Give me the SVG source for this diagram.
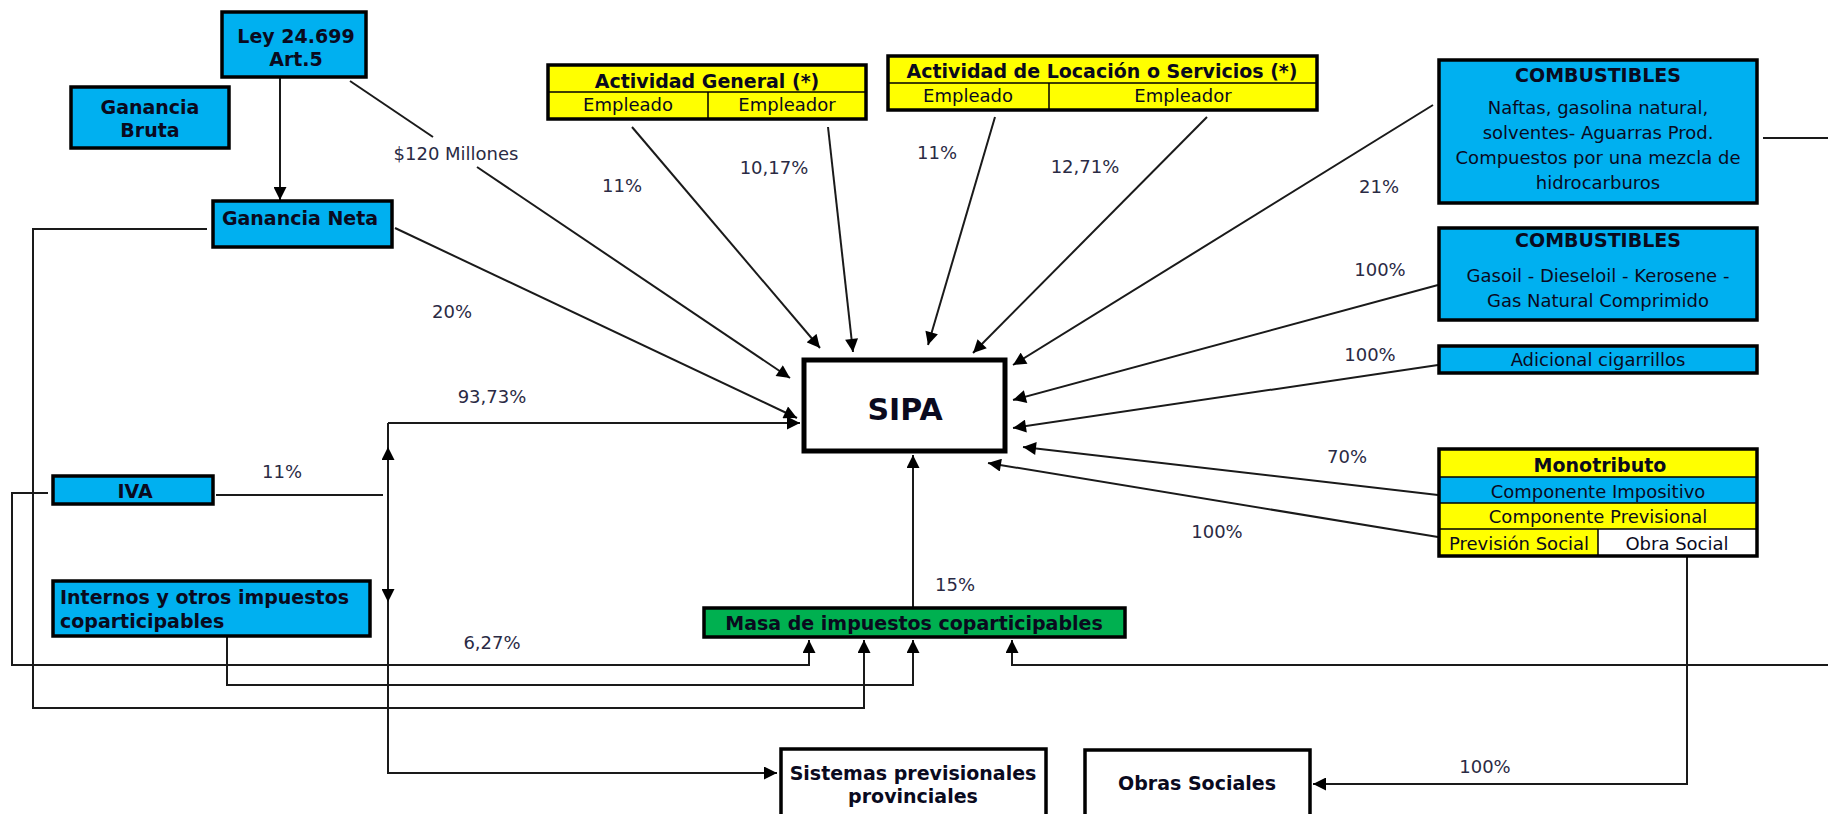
<svg xmlns="http://www.w3.org/2000/svg" width="1828" height="814" viewBox="0 0 1828 814">
<defs>
<style>
.t{font-family:"DejaVu Sans",Verdana,sans-serif;font-size:18px;fill:#0a0a1e;text-anchor:middle}
.b{font-weight:bold;font-size:19px}
.l{font-family:"DejaVu Sans",Verdana,sans-serif;font-size:18px;fill:#2a2a44;text-anchor:middle}
.blue{fill:#00B0F0;stroke:#000;stroke-width:3.5}
.frame{fill:none;stroke:#000;stroke-width:3.5}
.sep{stroke:#000;stroke-width:1.5;fill:none}
.white{fill:#fff;stroke:#000;stroke-width:3.5}
.c{stroke:#1a1a1a;stroke-width:2;fill:none}
.a{marker-end:url(#arr)}
</style>
<marker id="arr" viewBox="0 0 10 10" refX="10" refY="5" markerWidth="14" markerHeight="13" markerUnits="userSpaceOnUse" orient="auto">
<path d="M0,0 L10,5 L0,10 z" fill="#000"/>
</marker>
</defs>
<rect width="1828" height="814" fill="#fff"/>

<g id="connectors">
<path class="c a" d="M280,77 V200"/>
<path class="c" d="M350,81 L433,137"/>
<path class="c a" d="M477,167 L790,378"/>
<path class="c a" d="M632,127 L820,348"/>
<path class="c a" d="M828,127 L853,352"/>
<path class="c a" d="M995,117 L928,345"/>
<path class="c a" d="M1207,117 L973,353"/>
<path class="c a" d="M1433,105 L1013,365"/>
<path class="c a" d="M1438,285 L1013,400"/>
<path class="c a" d="M1438,365 L1013,428"/>
<path class="c a" d="M1438,495 L1023,447"/>
<path class="c a" d="M1438,537 L988,463"/>
<path class="c a" d="M395,228 L797,418"/>
<path class="c a" d="M388,423 H800"/>
<path class="c a" d="M388,423 V773 H777"/>
<path class="c a" d="M388,495 V447"/>
<path class="c a" d="M388,495 V602"/>
<path class="c" d="M216,495 H383"/>
<path class="c a" d="M48,493 H12 V665 H809 V640"/>
<path class="c a" d="M207,229 H33 V708 H864 V640"/>
<path class="c a" d="M227,636 V685 H913 V640"/>
<path class="c a" d="M1828,665 H1012 V640"/>
<path class="c" d="M1763,138 H1828"/>
<path class="c a" d="M913,607 V455"/>
<path class="c a" d="M1687,556 V784 H1313"/>
</g>

<g id="labels">
<text class="l" x="456" y="160">$120 Millones</text>
<text class="l" x="622" y="192">11%</text>
<text class="l" x="774" y="174">10,17%</text>
<text class="l" x="937" y="159">11%</text>
<text class="l" x="1085" y="173">12,71%</text>
<text class="l" x="1379" y="193">21%</text>
<text class="l" x="452" y="318">20%</text>
<text class="l" x="492" y="403">93,73%</text>
<text class="l" x="282" y="478">11%</text>
<text class="l" x="492" y="649">6,27%</text>
<text class="l" x="955" y="591">15%</text>
<text class="l" x="1380" y="276">100%</text>
<text class="l" x="1370" y="361">100%</text>
<text class="l" x="1347" y="463">70%</text>
<text class="l" x="1217" y="538">100%</text>
<text class="l" x="1485" y="773">100%</text>
</g>

<g id="ley">
<rect class="blue" x="222" y="12" width="144" height="65"/>
<text class="t b" x="296" y="43">Ley 24.699</text>
<text class="t b" x="296" y="66">Art.5</text>
</g>

<g id="ganancia-bruta">
<rect class="blue" x="71" y="87" width="158" height="61"/>
<text class="t b" x="150" y="114">Ganancia</text>
<text class="t b" x="150" y="137">Bruta</text>
</g>

<g id="ganancia-neta">
<rect class="blue" x="213" y="201" width="179" height="46"/>
<text class="t b" x="300" y="225">Ganancia Neta</text>
</g>

<g id="actividad-general">
<rect x="548" y="65" width="318" height="54" fill="#FFFF00"/>
<path class="sep" d="M548,92 H866 M708,92 V119"/>
<rect class="frame" x="548" y="65" width="318" height="54"/>
<text class="t b" x="707" y="88">Actividad General (*)</text>
<text class="t" x="628" y="111">Empleado</text>
<text class="t" x="787" y="111">Empleador</text>
</g>

<g id="actividad-locacion">
<rect x="888" y="56" width="429" height="54" fill="#FFFF00"/>
<path class="sep" d="M888,83 H1317 M1049,83 V110"/>
<rect class="frame" x="888" y="56" width="429" height="54"/>
<text class="t b" x="1102" y="78">Actividad de Locación o Servicios (*)</text>
<text class="t" x="968" y="102">Empleado</text>
<text class="t" x="1183" y="102">Empleador</text>
</g>

<g id="combustibles-1">
<rect class="blue" x="1439" y="60" width="318" height="143"/>
<text class="t b" x="1598" y="82">COMBUSTIBLES</text>
<text class="t" x="1598" y="114">Naftas, gasolina natural,</text>
<text class="t" x="1598" y="139">solventes- Aguarras Prod.</text>
<text class="t" x="1598" y="164">Compuestos por una mezcla de</text>
<text class="t" x="1598" y="189">hidrocarburos</text>
</g>

<g id="combustibles-2">
<rect class="blue" x="1439" y="228" width="318" height="92"/>
<text class="t b" x="1598" y="247">COMBUSTIBLES</text>
<text class="t" x="1598" y="282">Gasoil - Dieseloil - Kerosene -</text>
<text class="t" x="1598" y="307">Gas Natural Comprimido</text>
</g>

<g id="cigarrillos">
<rect class="blue" x="1439" y="346" width="318" height="27"/>
<text class="t" x="1598" y="366">Adicional cigarrillos</text>
</g>

<g id="monotributo">
<rect x="1439" y="449" width="318" height="28" fill="#FFFF00"/>
<rect x="1439" y="477" width="318" height="26" fill="#00B0F0"/>
<rect x="1439" y="503" width="318" height="26" fill="#FFFF00"/>
<rect x="1439" y="529" width="159" height="27" fill="#FFFF00"/>
<rect x="1598" y="529" width="159" height="27" fill="#fff"/>
<path class="sep" d="M1439,477 H1757 M1439,503 H1757 M1439,529 H1757 M1598,529 V556"/>
<rect class="frame" x="1439" y="449" width="318" height="107"/>
<text class="t b" x="1600" y="472">Monotributo</text>
<text class="t" x="1598" y="498">Componente Impositivo</text>
<text class="t" x="1598" y="523">Componente Previsional</text>
<text class="t" x="1519" y="550">Previsión Social</text>
<text class="t" x="1677" y="550">Obra Social</text>
</g>

<g id="sipa">
<rect x="804" y="360" width="201" height="91" fill="#fff" stroke="#000" stroke-width="5"/>
<text class="t b" x="905" y="420" style="font-size:30px">SIPA</text>
</g>

<g id="iva">
<rect class="blue" x="53" y="476" width="160" height="28"/>
<text class="t b" x="135" y="498">IVA</text>
</g>

<g id="internos">
<rect class="blue" x="53" y="581" width="317" height="55"/>
<text class="t b" x="60" y="604" style="text-anchor:start">Internos y otros impuestos</text>
<text class="t b" x="60" y="628" style="text-anchor:start">coparticipables</text>
</g>

<g id="masa">
<rect x="704" y="608" width="421" height="29" fill="#00B050" stroke="#000" stroke-width="3.5"/>
<text class="t b" x="914" y="630">Masa de impuestos coparticipables</text>
</g>

<g id="sistemas">
<rect class="white" x="781" y="749" width="265" height="80"/>
<text class="t b" x="913" y="780">Sistemas previsionales</text>
<text class="t b" x="913" y="803">provinciales</text>
</g>

<g id="obras-sociales">
<rect class="white" x="1085" y="750" width="225" height="80"/>
<text class="t b" x="1197" y="790">Obras Sociales</text>
</g>
</svg>
